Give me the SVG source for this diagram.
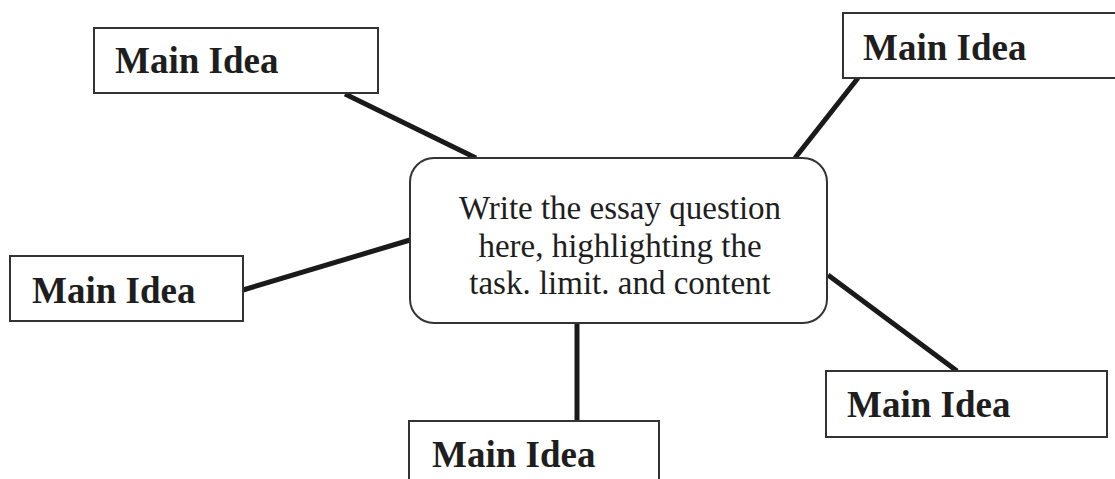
<svg xmlns="http://www.w3.org/2000/svg" width="1115" height="479" viewBox="0 0 1115 479">
<style>
.box{fill:#fff;stroke:#333;stroke-width:2}
.lbl{font-family:"Liberation Serif","Times New Roman",serif;font-weight:bold;font-size:37px;fill:#1e1e1e}
.ctr{font-family:"Liberation Serif","Times New Roman",serif;font-size:33px;fill:#1e1e1e;text-anchor:middle}
.con{stroke:#1a1a1a;stroke-width:5;stroke-linecap:butt;fill:none}
</style>
<rect width="1115" height="479" fill="#fff"/>
<g id="connectors">
<line class="con" x1="345" y1="94" x2="476" y2="158"/>
<line class="con" x1="858" y1="78" x2="795" y2="158"/>
<line class="con" x1="243" y1="290" x2="410" y2="240"/>
<line class="con" x1="577" y1="323" x2="577" y2="421"/>
<line class="con" x1="828" y1="275" x2="957" y2="371"/>
</g>
<g id="center">
<rect class="box" x="410" y="158" width="417" height="165" rx="24" ry="24"/>
<text class="ctr" x="620" y="219">Write the essay question</text>
<text class="ctr" x="620" y="257">here, highlighting the</text>
<text class="ctr" x="620" y="294">task. limit. and content</text>
</g>
<g id="idea-top-left">
<rect class="box" x="94" y="28" width="284" height="65"/>
<text class="lbl" x="115" y="73">Main Idea</text>
</g>
<g id="idea-top-right">
<rect class="box" x="843" y="13" width="290" height="65"/>
<text class="lbl" x="863" y="60">Main Idea</text>
</g>
<g id="idea-left">
<rect class="box" x="10" y="256" width="233" height="65"/>
<text class="lbl" x="32" y="303">Main Idea</text>
</g>
<g id="idea-bottom">
<rect class="box" x="409" y="421" width="250" height="80"/>
<text class="lbl" x="432" y="467">Main Idea</text>
</g>
<g id="idea-right">
<rect class="box" x="826" y="371" width="281" height="66"/>
<text class="lbl" x="847" y="417">Main Idea</text>
</g>
</svg>
